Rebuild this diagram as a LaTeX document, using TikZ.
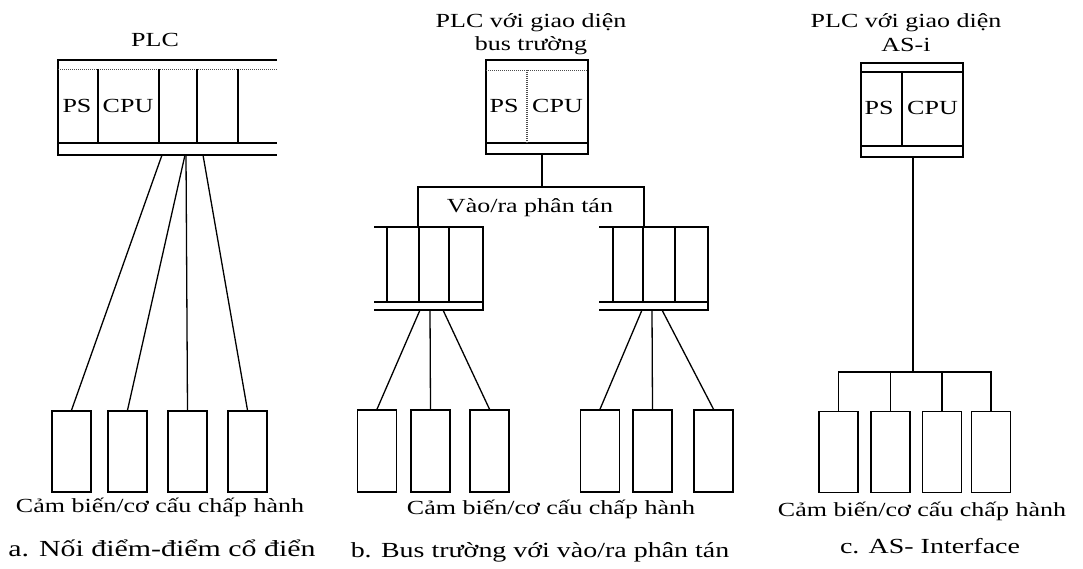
\documentclass[tikz,border=0pt]{standalone}
\usepackage{fontspec}
\setmainfont[FakeStretch=1.3]{Liberation Serif}
\begin{document}
\begin{tikzpicture}[x=1pt,y=-1pt,
  frame/.style={line width=1.6pt},
  thinframe/.style={line width=1.1pt},
  rail/.style={line width=1pt, densely dotted, black!70},
  wire/.style={line width=1.3pt},
  sensor/.style={draw, line width=1.6pt, minimum width=39pt, minimum height=81pt, inner sep=0pt},
  lbl/.style={font=\fontsize{20}{24}\selectfont, inner sep=0pt, anchor=base},
  captxt/.style={font=\fontsize{21.5}{26}\selectfont, inner sep=0pt, anchor=base},
  modtxt/.style={font=\fontsize{20}{24}\selectfont, inner sep=0pt}]
\useasboundingbox (0,0) rectangle (1083,568);

% ---------------- a. point-to-point wiring ----------------
\node[lbl] (a-title) at (155,46) {PLC};
\draw[frame] (277,60) -| (58,155) -- (277,155);
\draw[rail] (58,69) -- (277,69);
\draw[frame] (58,143) -- (277,143);
\foreach \x in {98,159,197,238} \draw[frame] (\x,69) -- (\x,143);
\node[modtxt] (a-ps) at (77,106) {PS};
\node[modtxt] (a-cpu) at (128,106) {CPU};

\coordinate (a-p1) at (162,155);
\coordinate (a-p2) at (185,155);
\coordinate (a-p3) at (186,155);
\coordinate (a-p4) at (203,155);
\node[sensor] (a1) at (71.5,451.5) {};
\node[sensor] (a2) at (127.5,451.5) {};
\node[sensor] (a3) at (187.5,451.5) {};
\node[sensor] (a4) at (247.5,451.5) {};
\draw[wire] (a-p1) -- (a1.north);
\draw[wire] (a-p2) -- (a2.north);
\draw[wire] (a-p3) -- (a3.north);
\draw[wire] (a-p4) -- (a4.north);

\node[lbl] (a-dev) at (160,512) {Cảm biến/cơ cấu chấp hành};
\node[captxt, font=\fontsize{23}{27}\selectfont] (a-cap) at (162,556) {a. Nối điểm-điểm cổ điển};

% ---------------- b. fieldbus with remote I/O ----------------
\node[lbl] (b-title1) at (531,27) {PLC với giao diện};
\node[lbl] (b-title2) at (531,50) {bus trường};
\draw[frame] (486,60) rectangle (588,154);
\draw[rail] (486,70) -- (588,70);
\draw[frame] (486,143) -- (588,143);
\draw[rail, line width=1.4pt] (527,70) -- (527,143);
\node[modtxt] (b-ps) at (504,106) {PS};
\node[modtxt] (b-cpu) at (557.5,106) {CPU};

\coordinate (b-out) at (542,154);
\coordinate (b-bus) at (542,187);
\coordinate (b-busl) at (418,187);
\coordinate (b-busr) at (644,187);
\coordinate (b-inl) at (418,227);
\coordinate (b-inr) at (644,227);
\draw[wire] (b-out) -- (b-bus);
\draw[wire] (b-inl) -- (b-busl) -- (b-busr) -- (b-inr);
\node[lbl] (b-io) at (530,212) {Vào/ra phân tán};

% remote I/O station, left
\draw[frame] (374,227) -- (483,227) -- (483,310) -- (374,310);
\draw[frame] (374,302) -- (483,302);
\draw[thinframe] (387,227) -- (387,302);
\foreach \x in {419,449} \draw[frame] (\x,227) -- (\x,302);
% remote I/O station, right
\draw[frame] (599,227) -- (708,227) -- (708,310) -- (599,310);
\draw[frame] (599,302) -- (708,302);
\draw[thinframe] (613,227) -- (613,302);
\foreach \x in {643,675} \draw[frame] (\x,227) -- (\x,302);

\coordinate (bl-p1) at (420,310);
\coordinate (bl-p2) at (430,310);
\coordinate (bl-p3) at (443,310);
\coordinate (br-p1) at (642,310);
\coordinate (br-p2) at (652,310);
\coordinate (br-p3) at (662,310);
\node[sensor, minimum height=82pt] (bl1) at (377,451) {};
\node[sensor, minimum height=82pt] (bl2) at (430.5,451) {};
\node[sensor, minimum height=82pt] (bl3) at (489.5,451) {};
\node[sensor, minimum height=82pt] (br1) at (600,451) {};
\node[sensor, minimum height=82pt] (br2) at (652.5,451) {};
\node[sensor, minimum height=82pt] (br3) at (713.5,451) {};
\draw[wire] (bl-p1) -- (bl1.north);
\draw[wire] (bl-p2) -- (bl2.north);
\draw[wire] (bl-p3) -- (bl3.north);
\draw[wire] (br-p1) -- (br1.north);
\draw[wire] (br-p2) -- (br2.north);
\draw[wire] (br-p3) -- (br3.north);

\node[lbl] (b-dev) at (551,514) {Cảm biến/cơ cấu chấp hành};
\node[captxt] (b-cap) at (540,557) {b. Bus trường với vào/ra phân tán};

% ---------------- c. AS-Interface ----------------
\node[lbl] (c-title1) at (906,27) {PLC với giao diện};
\node[lbl] (c-title2) at (906,51) {AS-i};
\draw[frame] (861,63) rectangle (963,157);
\draw[thinframe] (861,72) -- (963,72);
\draw[thinframe] (861,146) -- (963,146);
\draw[frame] (902,72) -- (902,146);
\node[modtxt] (c-ps) at (879,108) {PS};
\node[modtxt] (c-cpu) at (932.5,108) {CPU};

\coordinate (c-out) at (913,157);
\coordinate (c-bus) at (913,372);
\node[sensor] (c1) at (838.5,452) {};
\node[sensor] (c2) at (890.5,452) {};
\node[sensor] (c3) at (942,452) {};
\node[sensor] (c4) at (991,452) {};
\draw[wire] (c-out) -- (c-bus);
\draw[wire] (c1.north) |- (c4.north |- c-bus) -- (c4.north);
\draw[wire] (c2.north) -- (c2.north |- c-bus);
\draw[wire] (c3.north) -- (c3.north |- c-bus);

\node[lbl] (c-dev) at (922,516) {Cảm biến/cơ cấu chấp hành};
\node[captxt] (c-cap) at (930,553) {c. AS- Interface};
\end{tikzpicture}
\end{document}
